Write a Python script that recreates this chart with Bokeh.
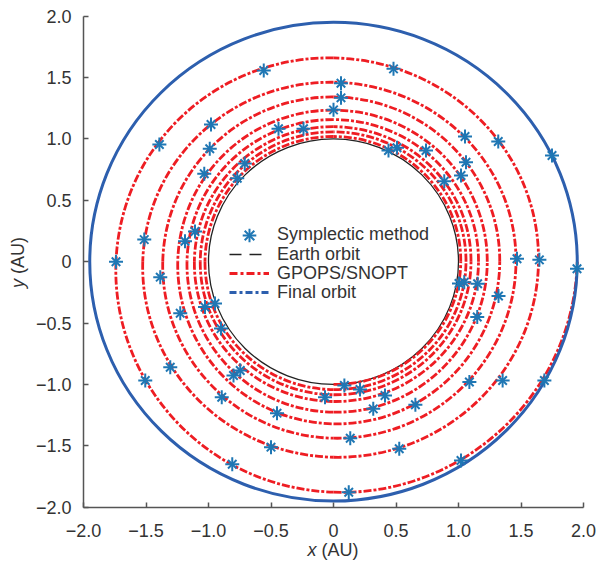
import math

from bokeh.plotting import figure
from bokeh.models import Label, Legend, LegendItem, FixedTicker, CustomJSTickFormatter, LinearAxis
from bokeh.embed import file_html
from bokeh.resources import INLINE

# GPOPS/SNOPT spiral transfer: polar angle (deg, counter-clockwise) and radius (AU)
spiral_angle_deg = [-90, 0, 90, 180, 270,
                    360, 450, 540, 630,
                    720, 810, 900, 990,
                    1080, 1170, 1260, 1350,
                    1440, 1530, 1620, 1710,
                    1800, 1890, 1980, 2070,
                    2160, 2250, 2340, 2430,
                    2520, 2610, 2700, 2790,
                    2880]
spiral_radius_au = [1.000, 1.018, 1.020, 1.028, 1.042,
                    1.060, 1.058, 1.066, 1.084,
                    1.100, 1.100, 1.113, 1.139,
                    1.160, 1.158, 1.172, 1.226,
                    1.230, 1.235, 1.246, 1.321,
                    1.330, 1.342, 1.366, 1.438,
                    1.460, 1.462, 1.526, 1.593,
                    1.640, 1.660, 1.740, 1.878,
                    1.950]

earth_radius_au = 1.0
final_radius_au = 1.95

# Symplectic method samples (x, y in AU)
symp_x = [0.48, -0.558, 0.06, 0.06, 0.0, -0.24, -0.44, -0.98, -0.99, -0.71,
          -0.77, -1.034, -1.393, 0.44, 0.508, 0.74, 1.052, 1.318, 1.748, 1.06,
          1.02, 0.886, 1.468, 1.647, 1.948, 1.004, 1.046, 1.153, -1.74, -1.514,
          -1.386, -1.188, -1.108, -1.226, -1.028, -0.948, -0.90, -1.306, -1.506, -0.746,
          -0.80, -0.894, -0.452, -0.068, 0.087, 0.212, 0.412, 0.318, 0.655, 0.134,
          -0.50, 0.526, 1.087, 1.353, 1.687, 1.02, 0.122, -0.81, 1.32, 1.15]
symp_y = [1.571, 1.558, 1.454, 1.335, 1.237, 1.083, 1.083, 1.118, 0.92, 0.80,
          0.68, 0.716, 0.955, 0.906, 0.928, 0.906, 1.02, 0.979, 0.865, 0.81,
          0.702, 0.656, 0.024, 0.015, -0.058, -0.178, -0.167, -0.18, 0.0, 0.18,
          -0.126, 0.167, 0.246, -0.42, -0.37, -0.34, -0.545, -0.86, -0.968, -0.886,
          -0.927, -1.104, -1.234, -1.104, -1.009, -1.041, -1.09, -1.199, -1.166, -1.438,
          -1.511, -1.524, -0.98, -0.968, -0.968, -1.62, -1.878, -1.65, -0.28, -0.45]

tick_values = [-2.0, -1.5, -1.0, -0.5, 0.0, 0.5, 1.0, 1.5, 2.0]
axis_span = (-2.0, 2.0)

RED = "#ee1d23"
BLUE_ORBIT = "#2d5fae"
BLUE_MARK = "#1f77b4"
TEXT = "#333333"
FONT = "Liberation Sans"

# The plotting area spans the whole canvas; the axes sit at x = -2 and y = -2
p = figure(width=597, height=571, x_range=(-2.664, 2.112), y_range=(-2.524, 2.128),
           output_backend="svg", toolbar_location=None,
           x_axis_location=None, y_axis_location=None,
           min_border=0, frame_width=597, frame_height=571)
p.outline_line_color = None
p.background_fill_color = "white"
p.border_fill_color = "white"
for g in p.grid:
    g.visible = False

fmt = CustomJSTickFormatter(code="""
if (Math.abs(tick) < 1e-9) { return "0"; }
return (tick < 0 ? "\\u2212" : "") + Math.abs(tick).toFixed(1);
""")
xax = LinearAxis(fixed_location=-2.0, bounds=axis_span)
yax = LinearAxis(fixed_location=-2.0, bounds=axis_span)
for ax in (xax, yax):
    ax.ticker = FixedTicker(ticks=tick_values)
    ax.formatter = fmt
    ax.minor_tick_line_color = None
    ax.major_tick_in = 5
    ax.major_tick_out = 0
    ax.axis_line_color = "#555555"
    ax.axis_line_width = 1.5
    ax.major_tick_line_color = "#555555"
    ax.major_tick_line_width = 1.5
    ax.major_label_text_font = FONT
    ax.major_label_text_font_size = "18px"
    ax.major_label_text_color = TEXT
xax.major_label_standoff = 17
yax.major_label_standoff = 12
p.add_layout(xax, "below")
p.add_layout(yax, "left")

# Earth orbit
p.ellipse(x=0, y=0, width=2 * earth_radius_au, height=2 * earth_radius_au,
          fill_color=None, line_color="#222222", line_width=1.3)

# Spiral drawn as cubic Bezier pieces between the knots
th = [math.radians(a) for a in spiral_angle_deg]
n = len(th)
dr = []
for i in range(n):
    a, b = max(i - 1, 0), min(i + 1, n - 1)
    dr.append((spiral_radius_au[b] - spiral_radius_au[a]) / (th[b] - th[a]))

def pos(i):
    r = spiral_radius_au[i]
    return r * math.cos(th[i]), r * math.sin(th[i])

def tangent(i):
    r = spiral_radius_au[i]
    c, s = math.cos(th[i]), math.sin(th[i])
    return dr[i] * c - r * s, dr[i] * s + r * c

bx0, by0, bx1, by1, cx0, cy0, cx1, cy1 = [], [], [], [], [], [], [], []
for i in range(n - 1):
    k = 4.0 / 3.0 * math.tan((th[i + 1] - th[i]) / 4.0)
    x0, y0 = pos(i)
    x1, y1 = pos(i + 1)
    t0x, t0y = tangent(i)
    t1x, t1y = tangent(i + 1)
    bx0.append(x0); by0.append(y0); bx1.append(x1); by1.append(y1)
    cx0.append(x0 + k * t0x); cy0.append(y0 + k * t0y)
    cx1.append(x1 - k * t1x); cy1.append(y1 - k * t1y)

p.bezier(x0=bx0, y0=by0, x1=bx1, y1=by1, cx0=cx0, cy0=cy0, cx1=cx1, cy1=cy1,
         line_color=RED, line_width=2.8, line_dash="8 2 3 2")

# Final orbit
p.ellipse(x=0, y=0, width=2 * final_radius_au, height=2 * final_radius_au,
          fill_color=None, line_color=BLUE_ORBIT, line_width=3)

# Symplectic samples as eight-armed asterisks
m1 = p.scatter(symp_x, symp_y, marker="cross", size=14, line_color=BLUE_MARK, line_width=2)
m2 = p.scatter(symp_x, symp_y, marker="x", size=12, line_color=BLUE_MARK, line_width=2)

# Legend swatches (a single point draws no line on the plot)
l_earth = p.line(x=[9], y=[9], line_color="#222222", line_width=1.5, line_dash="12 8")
l_gpops = p.line(x=[9], y=[9], line_color=RED, line_width=3, line_dash="8 3 3 3")
l_final = p.line(x=[9], y=[9], line_color=BLUE_ORBIT, line_width=3, line_dash="7 3 3 3")

# One single-row legend per entry keeps the rows tightly stacked
entries = [("Symplectic method", [m1, m2], 319.2),
           ("Earth orbit", [l_earth], 300.0),
           ("GPOPS/SNOPT", [l_gpops], 280.8),
           ("Final orbit", [l_final], 261.6)]
for label, rends, bottom in entries:
    lg = Legend(items=[LegendItem(label=label, renderers=rends)], location=(229, bottom))
    lg.glyph_width = 40
    lg.glyph_height = 34
    lg.label_height = 18
    lg.padding = 0
    lg.margin = 0
    lg.label_standoff = 8
    lg.border_line_color = None
    lg.background_fill_alpha = 0
    lg.label_text_font = FONT
    lg.label_text_font_size = "18px"
    lg.label_text_color = TEXT
    p.add_layout(lg)

# Axis titles with italic variable names
lab_kw = dict(text_font=FONT, text_font_size="18px", text_color=TEXT, text_baseline="middle")
p.add_layout(Label(x=-0.208, y=-2.345, text="x", text_font_style="italic", text_align="left", **lab_kw))
p.add_layout(Label(x=-0.096, y=-2.345, text="(AU)", text_align="left", **lab_kw))
p.add_layout(Label(x=-2.524, y=-0.214, text="y", text_font_style="italic", text_align="left",
                   angle=math.pi / 2, **lab_kw))
p.add_layout(Label(x=-2.524, y=-0.100, text="(AU)", text_align="left",
                   angle=math.pi / 2, **lab_kw))

open("out.html", "w").write(file_html(p, INLINE))
